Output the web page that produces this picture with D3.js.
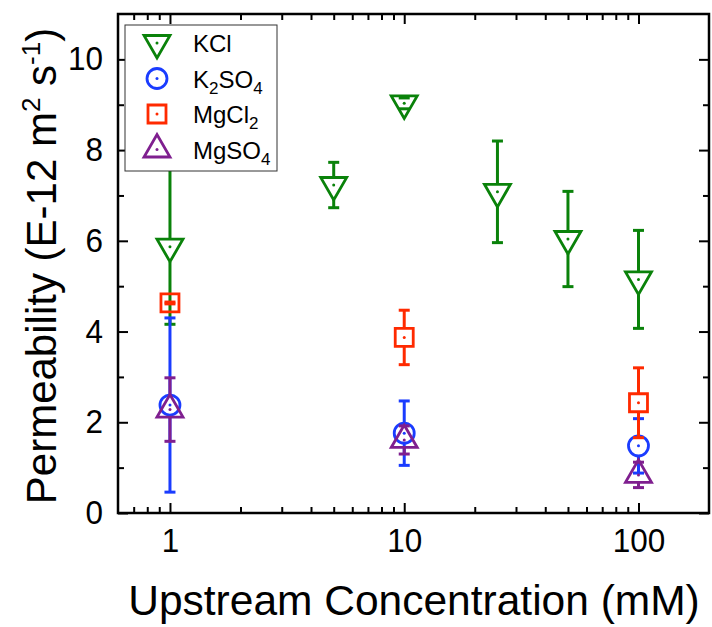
<!DOCTYPE html>
<html>
<head>
<meta charset="utf-8">
<script src="https://cdn.jsdelivr.net/npm/d3@7"></script>
<style>
  body { margin: 0; background: #fff; }
  text { font-family: "Liberation Sans", Arial, sans-serif; }
</style>
</head>
<body>
<div class="chart"></div>
<script>
const FRAME_WIDTH = 712;
const FRAME_HEIGHT = 627;
const MARGINS = {left: 118, right: 3, top: 14, bottom: 114};

// data (value, error)
const kclConc = [1, 5, 10, 25, 50, 100];
const kclVal = [5.87, 7.23, 9.03, 7.08, 6.04, 5.15];
const kclErr = [1.71, 0.50, 0.12, 1.12, 1.05, 1.08];

const k2so4Conc = [1, 10, 100];
const k2so4Val = [2.38, 1.76, 1.48];
const k2so4Err = [1.92, 0.71, 0.60];

const mgcl2Conc = [1, 10, 100];
const mgcl2Val = [4.63, 3.87, 2.43];
const mgcl2Err = [0.02, 0.60, 0.77];

const mgso4Conc = [1, 10, 100];
const mgso4Val = [2.28, 1.61, 0.84];
const mgso4Err = [0.70, 0.31, 0.28];

const xTicks = [1, 10, 100];
const yTicks = [0, 2, 4, 6, 8, 10];

const SERIES = [
  {sub: [["KCl", false]], color: "#0a820a", shape: "down", conc: kclConc, val: kclVal, err: kclErr},
  {sub: [["K", false], ["2", true], ["SO", false], ["4", true]], color: "#1a3cff", shape: "circle", conc: k2so4Conc, val: k2so4Val, err: k2so4Err},
  {sub: [["MgCl", false], ["2", true]], color: "#ff2a00", shape: "square", conc: mgcl2Conc, val: mgcl2Val, err: mgcl2Err},
  {sub: [["MgSO", false], ["4", true]], color: "#7f1f8f", shape: "up", conc: mgso4Conc, val: mgso4Val, err: mgso4Err}
];

const W = FRAME_WIDTH - MARGINS.left - MARGINS.right;
const H = FRAME_HEIGHT - MARGINS.top - MARGINS.bottom;

const svg = d3.select(".chart").append("svg")
    .attr("width", FRAME_WIDTH)
    .attr("height", FRAME_HEIGHT);

const xScale = d3.scaleLog().domain([0.6, 200]).range([0, W]);
const yScale = d3.scaleLinear().domain([0, 11]).range([H, 0]);

const g = svg.append("g")
    .attr("transform", "translate(" + MARGINS.left + "," + MARGINS.top + ")");

// minor ticks
const xMinor = [0.7, 0.8, 0.9, 2, 3, 4, 5, 6, 7, 8, 9, 20, 30, 40, 50, 60, 70, 80, 90];
const yMinor = [1, 3, 5, 7, 9];

function styleAxis(sel) {
  sel.select(".domain").remove();
  sel.selectAll(".tick line").attr("stroke", "#000").attr("stroke-width", 2);
}

// bottom axis (ticks inward)
g.append("g").attr("transform", "translate(0," + H + ")")
    .call(d3.axisBottom(xScale).tickValues(xTicks).tickFormat(d3.format("d")).tickSizeInner(-10).tickPadding(15))
    .call(styleAxis)
    .selectAll("text").attr("font-size", "34px").attr("fill", "#000")
    .attr("font-family", "Liberation Sans, Arial, sans-serif")
    .attr("textLength", (d) => String(d).length * 17.5)
    .attr("lengthAdjust", "spacingAndGlyphs");
g.append("g").attr("transform", "translate(0," + H + ")")
    .call(d3.axisBottom(xScale).tickValues(xMinor).tickFormat("").tickSizeInner(-6))
    .call(styleAxis);
// top axis
g.append("g")
    .call(d3.axisTop(xScale).tickValues(xTicks).tickFormat("").tickSizeInner(-10))
    .call(styleAxis);
g.append("g")
    .call(d3.axisTop(xScale).tickValues(xMinor).tickFormat("").tickSizeInner(-6))
    .call(styleAxis);
// left axis
g.append("g")
    .call(d3.axisLeft(yScale).tickValues(yTicks).tickSizeInner(-10).tickPadding(15))
    .call(styleAxis)
    .selectAll("text").attr("font-size", "33px").attr("fill", "#000")
    .attr("font-family", "Liberation Sans, Arial, sans-serif")
    .attr("textLength", (d) => String(d).length * 17.5)
    .attr("lengthAdjust", "spacingAndGlyphs");
g.append("g")
    .call(d3.axisLeft(yScale).tickValues(yMinor).tickFormat("").tickSizeInner(-6))
    .call(styleAxis);
// right axis
g.append("g").attr("transform", "translate(" + W + ",0)")
    .call(d3.axisRight(yScale).tickValues(yTicks).tickFormat("").tickSizeInner(-10))
    .call(styleAxis);
g.append("g").attr("transform", "translate(" + W + ",0)")
    .call(d3.axisRight(yScale).tickValues(yMinor).tickFormat("").tickSizeInner(-6))
    .call(styleAxis);

// frame
g.append("rect")
    .attr("x", 0).attr("y", 0).attr("width", W).attr("height", H)
    .attr("fill", "none").attr("stroke", "#000").attr("stroke-width", 2.5);

// marker shapes: path plus vertical extent above / below centre
const TRI = 26;
const TRI_H = TRI * Math.sqrt(3) / 2;
function markerPath(shape) {
  if (shape === "down") {
    return "M" + (-TRI / 2) + "," + (-TRI_H / 3) + "L" + (TRI / 2) + "," + (-TRI_H / 3) + "L0," + (2 * TRI_H / 3) + "Z";
  }
  if (shape === "up") {
    return "M" + (-TRI / 2) + "," + (TRI_H / 3) + "L" + (TRI / 2) + "," + (TRI_H / 3) + "L0," + (-2 * TRI_H / 3) + "Z";
  }
  if (shape === "square") return "M-9,-9L9,-9L9,9L-9,9Z";
  return "M-10,0A10,10 0 1,0 10,0A10,10 0 1,0 -10,0Z";
}
function markerExtent(shape) {
  if (shape === "down") return [TRI_H / 3, 2 * TRI_H / 3];
  if (shape === "up") return [2 * TRI_H / 3, TRI_H / 3];
  if (shape === "square") return [9, 9];
  return [10, 10];
}

const plot = g.append("g");

SERIES.forEach((s) => {
  const rows = s.conc.map((c, i) => ({c: c, v: s.val[i], e: s.err[i]}));
  const ext = markerExtent(s.shape);
  const sg = plot.append("g").attr("class", "series");

  // error bar stems stop at the marker edge
  const eb = sg.selectAll(".err").data(rows).enter().append("g").attr("class", "err")
      .attr("stroke", s.color).attr("stroke-width", 3);
  eb.append("line")
      .attr("x1", (d) => xScale(d.c)).attr("x2", (d) => xScale(d.c))
      .attr("y1", (d) => yScale(d.v + d.e))
      .attr("y2", (d) => Math.max(yScale(d.v + d.e), yScale(d.v) - ext[0]));
  eb.append("line")
      .attr("x1", (d) => xScale(d.c)).attr("x2", (d) => xScale(d.c))
      .attr("y1", (d) => Math.min(yScale(d.v - d.e), yScale(d.v) + ext[1]))
      .attr("y2", (d) => yScale(d.v - d.e));

  // markers (hollow)
  const mk = sg.selectAll(".mk").data(rows).enter().append("g").attr("class", "mk")
      .attr("transform", (d) => "translate(" + xScale(d.c) + "," + yScale(d.v) + ")");
  mk.append("path").attr("d", markerPath(s.shape))
      .attr("fill", "none").attr("stroke", s.color).attr("stroke-width", 2.8);
  mk.append("circle").attr("r", 1.5).attr("fill", s.color);

  // caps
  eb.append("line")
      .attr("x1", (d) => xScale(d.c) - 5.5).attr("x2", (d) => xScale(d.c) + 5.5)
      .attr("y1", (d) => yScale(d.v + d.e)).attr("y2", (d) => yScale(d.v + d.e));
  eb.append("line")
      .attr("x1", (d) => xScale(d.c) - 5.5).attr("x2", (d) => xScale(d.c) + 5.5)
      .attr("y1", (d) => yScale(d.v - d.e)).attr("y2", (d) => yScale(d.v - d.e));
});

// legend
const lg = g.append("g").attr("transform", "translate(7,11)");
lg.append("rect")
    .attr("x", 0).attr("y", 0).attr("width", 152).attr("height", 146)
    .attr("fill", "#fff").attr("stroke", "#333").attr("stroke-width", 1);
SERIES.forEach((s, i) => {
  const cy = 18 + i * 35.5;
  const row = lg.append("g").attr("transform", "translate(32," + cy + ")");
  row.append("path").attr("d", markerPath(s.shape))
      .attr("fill", "none").attr("stroke", s.color).attr("stroke-width", 2.8);
  row.append("circle").attr("r", 1.5).attr("fill", s.color);
  const t = lg.append("text").attr("x", 68).attr("y", cy + 9)
      .attr("font-size", "24px").attr("fill", "#000");
  s.sub.forEach((p, j) => {
    const ts = t.append("tspan").text(p[0]);
    if (p[1]) ts.attr("font-size", "17px").attr("dy", 6);
    else if (j > 0) ts.attr("dy", -6);
  });
});

// axis titles
svg.append("text")
    .attr("x", 414).attr("y", 615)
    .attr("text-anchor", "middle")
    .attr("font-size", "42.5px").attr("fill", "#000")
    .text("Upstream Concentration (mM)");

const yt = svg.append("text")
    .attr("transform", "translate(56,266) rotate(-90)")
    .attr("text-anchor", "middle")
    .attr("font-size", "42px").attr("fill", "#000");
yt.append("tspan").text("Permeability (E-12 m");
yt.append("tspan").text("2").attr("font-size", "26px").attr("dy", -16);
yt.append("tspan").text(" s").attr("dy", 16);
yt.append("tspan").text("-1").attr("font-size", "26px").attr("dy", -16);
yt.append("tspan").text(")").attr("dy", 16);
</script>
</body>
</html>
